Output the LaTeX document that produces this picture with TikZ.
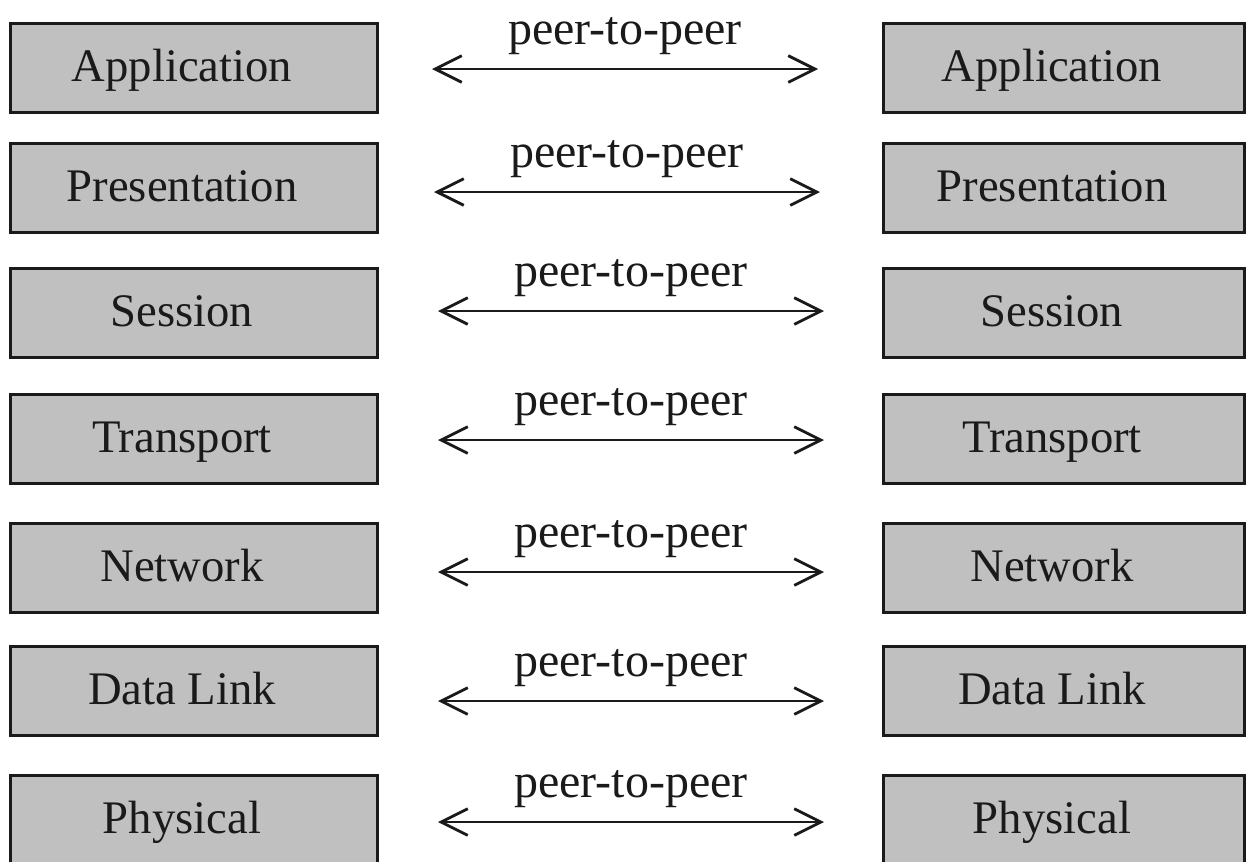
\documentclass[tikz,border=0pt]{standalone}
\usepackage{fontspec}
\setmainfont{Liberation Serif}
\usetikzlibrary{arrows.meta}

\definecolor{boxgrey}{HTML}{C0C0C0}
\definecolor{ink}{HTML}{1A1A1A}

\begin{document}
\begin{tikzpicture}[x=0.75pt,y=-0.75pt,
  layerbox/.style={draw=ink, line width=2.3pt, fill=boxgrey, text=ink,
    anchor=north west, inner sep=0pt, outer sep=0pt,
    minimum height=66.75pt, text height=21pt, text depth=1.5pt,
    font=\fontsize{35}{40}\selectfont},
  leftbox/.style={layerbox, minimum width=275.25pt},
  rightbox/.style={layerbox, minimum width=270.75pt},
  peer/.style={draw=ink, line width=2.1pt,
    {Straight Barb[length=20pt,width=20pt]}-{Straight Barb[length=20pt,width=20pt]}},
  peerlabel/.style={anchor=base, yshift=18.75pt, inner sep=0pt, text=ink,
    font=\fontsize{36}{40}\selectfont}
]
\useasboundingbox (0,0) rectangle (1248,861);

% left-hand stack
\node[leftbox] (L1) at (10.5,23.5)  {Application\kern18pt};
\node[leftbox] (L2) at (10.5,143.5) {Presentation\kern18pt};
\node[leftbox] (L3) at (10.5,268.5) {Session\kern18pt};
\node[leftbox] (L4) at (10.5,394.5) {Transport\kern18pt};
\node[leftbox] (L5) at (10.5,523.5) {Network\kern18pt};
\node[leftbox] (L6) at (10.5,646.5) {Data Link\kern18pt};
\node[leftbox] (L7) at (10.5,775.5) {Physical\kern18pt};

% right-hand stack
\node[rightbox] (R1) at (883.5,23.5)  {Application\kern18pt};
\node[rightbox] (R2) at (883.5,143.5) {Presentation\kern18pt};
\node[rightbox] (R3) at (883.5,268.5) {Session\kern18pt};
\node[rightbox] (R4) at (883.5,394.5) {Transport\kern18pt};
\node[rightbox] (R5) at (883.5,523.5) {Network\kern18pt};
\node[rightbox] (R6) at (883.5,646.5) {Data Link\kern18pt};
\node[rightbox] (R7) at (883.5,775.5) {Physical\kern18pt};

% peer-to-peer links between matching layers
\draw[peer] ([shift={(54.5,1)}]L1.east) -- ([shift={(-65.5,1)}]R1.west)
  node[midway, peerlabel] {peer-to-peer};
\draw[peer] ([shift={(56.5,4)}]L2.east) -- ([shift={(-63.5,4)}]R2.west)
  node[midway, peerlabel] {peer-to-peer};
\draw[peer] ([shift={(60.5,-2)}]L3.east) -- ([shift={(-59.5,-2)}]R3.west)
  node[midway, peerlabel] {peer-to-peer};
\draw[peer] ([shift={(60.5,1)}]L4.east) -- ([shift={(-59.5,1)}]R4.west)
  node[midway, peerlabel] {peer-to-peer};
\draw[peer] ([shift={(60.5,4)}]L5.east) -- ([shift={(-59.5,4)}]R5.west)
  node[midway, peerlabel] {peer-to-peer};
\draw[peer] ([shift={(60.5,10)}]L6.east) -- ([shift={(-59.5,10)}]R6.west)
  node[midway, peerlabel] {peer-to-peer};
\draw[peer] ([shift={(60.5,2)}]L7.east) -- ([shift={(-59.5,2)}]R7.west)
  node[midway, peerlabel] {peer-to-peer};
\end{tikzpicture}
\end{document}
